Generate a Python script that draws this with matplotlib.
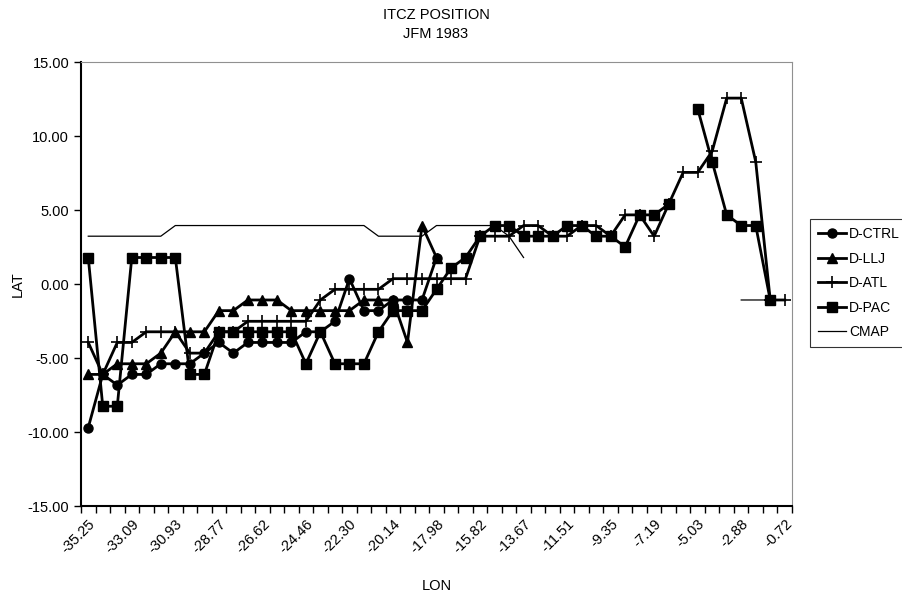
import numpy as np
import matplotlib
matplotlib.use('Agg')
import matplotlib.pyplot as plt

plt.rcParams['font.family'] = ['Liberation Sans', 'DejaVu Sans']

nan = np.nan

# x categories are the 49 longitudes; only every 3rd is labelled
lon_labels = ['-35.25', '-33.09', '-30.93', '-28.77', '-26.62', '-24.46', '-22.30',
              '-20.14', '-17.98', '-15.82', '-13.67', '-11.51', '-9.35', '-7.19',
              '-5.03', '-2.88', '-0.72']

d_ctrl = [-9.70, -6.11, -6.83, -6.11, -6.11, -5.39, -5.39, -5.39, -4.67, -3.95,
          -4.67, -3.95, -3.95, -3.95, -3.95, -3.23, -3.23, -2.52, 0.36, -1.80,
          -1.80, -1.08, -1.08, -1.08, 1.79] + [nan] * 24

d_llj = [-6.11, -6.11, -5.39, -5.39, -5.39, -4.67, -3.23, -3.23, -3.23, -1.80,
         -1.80, -1.08, -1.08, -1.08, -1.80, -1.80, -1.80, -1.80, -1.80, -1.08,
         -1.08, -1.08, -3.95, 3.95, 1.79] + [nan] * 24

d_atl = [-3.95, -6.11, -3.95, -3.95, -3.23, -3.23, -3.23, -4.67, -4.67, -3.23,
         -3.23, -2.52, -2.52, -2.52, -2.52, -2.52, -1.08, -0.36, -0.36, -0.36,
         -0.36, 0.36, 0.36, 0.36, 0.36, 0.36, 0.36, 3.23, 3.23, 3.23,
         3.95, 3.95, 3.23, 3.23, 3.95, 3.95, 3.23, 4.67, 4.67, 3.23,
         5.39, 7.54, 7.54, 8.97, 12.56, 12.56, 8.26, -1.08, -1.08]

d_pac = [1.79, -8.26, -8.26, 1.79, 1.79, 1.79, 1.79, -6.11, -6.11, -3.23,
         -3.23, -3.23, -3.23, -3.23, -3.23, -5.39, -3.23, -5.39, -5.39, -5.39,
         -3.23, -1.80, -1.80, -1.80, -0.36, 1.08, 1.79, 3.23, 3.95, 3.95,
         3.23, 3.23, 3.23, 3.95, 3.95, 3.23, 3.23, 2.51, 4.67, 4.67,
         5.39, nan, 11.84, 8.26, 4.67, 3.95, 3.95, -1.08, nan]

cmap = [3.23, 3.23, 3.23, 3.23, 3.23, 3.23, 3.95, 3.95, 3.95, 3.95,
        3.95, 3.95, 3.95, 3.95, 3.95, 3.95, 3.95, 3.95, 3.95, 3.95,
        3.23, 3.23, 3.23, 3.23, 3.95, 3.95, 3.95, 3.95, 3.95, 3.23,
        1.79] + [nan] * 14 + [-1.08, -1.08, -1.08, nan]

x = np.arange(len(d_atl))

fig = plt.figure(figsize=(9.03, 5.95), dpi=100)
ax = fig.add_axes([81 / 903, 89 / 595, 711 / 903, 444 / 595])

lw = 2.0
ax.plot(x, d_ctrl, color='black', lw=lw, marker='o', ms=6.5, label='D-CTRL')
ax.plot(x, d_llj, color='black', lw=lw, marker='^', ms=7, label='D-LLJ')
ax.plot(x, d_atl, color='black', lw=lw, marker='+', ms=9, mew=1.2, label='D-ATL')
ax.plot(x, d_pac, color='black', lw=lw, marker='s', ms=6.5, label='D-PAC')
ax.plot(x, cmap, color='black', lw=0.9, label='CMAP')

ax.set_xlim(-0.5, len(x) - 0.5)
ax.set_ylim(-15, 15)
ax.set_yticks(np.arange(-15, 16, 5))
ax.set_yticklabels(['%.2f' % v for v in np.arange(-15, 16, 5)], fontsize=10.5)

# tick marks on category boundaries, labels on every 3rd category
ax.set_xticks(np.arange(-0.5, len(x), 1.0))
ax.set_xticklabels([])
ax.set_xticks(np.arange(0, len(x), 3), minor=True)
ax.set_xticklabels(lon_labels, minor=True, rotation=45, ha='right',
                   rotation_mode='anchor', fontsize=10.5)
ax.tick_params(axis='x', which='minor', length=0, pad=8)
ax.tick_params(axis='both', which='major', length=5, width=1, direction='out')

for s in ['left', 'bottom']:
    ax.spines[s].set_linewidth(1.5)
for s in ['top', 'right']:
    ax.spines[s].set_color('#909090')
    ax.spines[s].set_linewidth(0.8)

ax.set_xlabel('LON', fontsize=10.5, labelpad=16)
ax.set_ylabel('LAT', fontsize=10.5, labelpad=2)
fig.text(436 / 903, 1 - 15 / 595, 'ITCZ POSITION', ha='center', va='center', fontsize=10.5)
fig.text(436 / 903, 1 - 34 / 595, 'JFM 1983', ha='center', va='center', fontsize=10.5)

leg = fig.legend(loc='upper left', bbox_to_anchor=(810 / 903, 1 - 219 / 595),
                 borderaxespad=0, frameon=True, fancybox=False, fontsize=10,
                 handlelength=2.0, labelspacing=0.75, borderpad=0.6,
                 handletextpad=0.2)
leg.get_frame().set_edgecolor('black')
leg.get_frame().set_linewidth(0.8)

fig.savefig('out.png', dpi=100)
